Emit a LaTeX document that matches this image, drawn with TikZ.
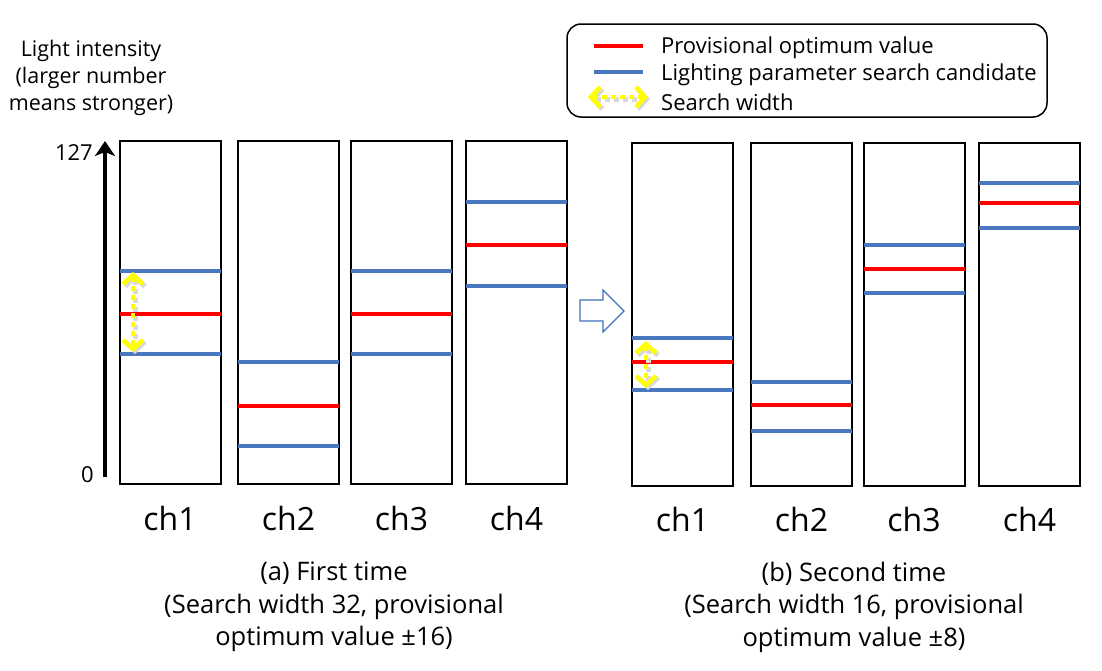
\documentclass[tikz,border=0pt]{standalone}
\usepackage{fontspec}
\setmainfont{Open Sans}
\usetikzlibrary{arrows.meta}
\definecolor{candblue}{RGB}{74,120,192}
\definecolor{optred}{RGB}{255,0,0}
\definecolor{swyellow}{RGB}{255,255,0}
\definecolor{arrowblue}{RGB}{65,113,190}
\tikzset{
  chbox/.style={draw=black, line width=2pt, fill=white, minimum width=101pt, minimum height=343pt, anchor=north west, inner sep=0pt, outer sep=0pt},
  candline/.style={draw=candblue, line width=4pt},
  optline/.style={draw=optred, line width=4pt},
  widtharrow/.style={draw=swyellow, line width=4pt, dash pattern=on 5pt off 4pt, {Straight Barb[length=9pt,width=20pt,line width=4.5pt]}-{Straight Barb[length=9pt,width=20pt,line width=4.5pt]}},
  widthshadow/.style={draw=black!15, line width=5pt, dash pattern=on 5pt off 4pt, {Straight Barb[length=9pt,width=20pt,line width=5pt]}-{Straight Barb[length=9pt,width=20pt,line width=5pt]}},
  chlabel/.style={font=\fontsize{32}{36}\selectfont},
  caption/.style={font=\fontsize{25.5}{32.5}\selectfont, align=center},
  legtext/.style={font=\fontsize{22}{26}\selectfont, anchor=west, inner sep=0pt},
  axistext/.style={font=\fontsize{21.5}{27}\selectfont, align=center},
  ticktext/.style={font=\fontsize{22}{26}\selectfont, anchor=east, inner sep=0pt},
}
\newcommand\chanlines[4]{%
  \draw[candline] (#1.west |- 0,#2) -- (#1.east |- 0,#2);
  \draw[optline]  (#1.west |- 0,#3) -- (#1.east |- 0,#3);
  \draw[candline] (#1.west |- 0,#4) -- (#1.east |- 0,#4);
}
\begin{document}
\begin{tikzpicture}[x=1pt,y=-1pt]
\useasboundingbox (0,0) rectangle (1102,670);

% axis
\node[axistext] (axtitle) at (91,78) {Light intensity\\(larger number\\means stronger)};
\coordinate (axbot) at (105,477);
\coordinate (axtop) at (105,141);
\draw[line width=4pt, -{Stealth[length=15pt,width=20pt,inset=4pt]}] (axbot) -- (axtop);
\node[ticktext] (t127) at (93,153) {127};
\node[ticktext] (t0) at (94,475) {0};

% panel (a)
\node[chbox] (a1) at (119.5,141) {};
\node[chbox] (a2) at (238,141) {};
\node[chbox] (a3) at (351,141) {};
\node[chbox] (a4) at (466,141) {};
\chanlines{a1}{271}{314}{354}
\chanlines{a2}{362}{406}{446}
\chanlines{a3}{271}{314}{354}
\chanlines{a4}{202}{245}{286}
\coordinate (aw1) at (133,272);
\coordinate (aw2) at (133,352);
\draw[widthshadow] ([shift={(2pt,-2pt)}]aw1) -- ([shift={(2pt,-2pt)}]aw2);
\draw[widtharrow] (aw1) -- (aw2);
\foreach \n in {1,2,3,4} {\node[chlabel] (la\n) at ([yshift=-34pt]a\n.south) {ch\n};}
\node[caption] (capa) at (334,607) {(a) First time\\(Search width 32, provisional\\optimum value ±16)};

% block arrow
\draw[draw=arrowblue, line width=1.2pt, fill=white, line join=miter]
  (580,300) -- (603,300) -- (603,290) -- (624,311) -- (603,332) -- (603,321) -- (580,321) -- cycle;

% panel (b)
\node[chbox] (b1) at (632,142.5) {};
\node[chbox] (b2) at (751,142.5) {};
\node[chbox] (b3) at (863.5,142.5) {};
\node[chbox] (b4) at (979,142.5) {};
\chanlines{b1}{338}{362}{390}
\chanlines{b2}{382}{405}{431}
\chanlines{b3}{245}{269}{293}
\chanlines{b4}{183}{203}{228}
\coordinate (bw1) at (646,341);
\coordinate (bw2) at (646,388);
\draw[widthshadow] ([shift={(2pt,-2pt)}]bw1) -- ([shift={(2pt,-2pt)}]bw2);
\draw[widtharrow] (bw1) -- (bw2);
\foreach \n in {1,2,3,4} {\node[chlabel] (lb\n) at ([yshift=-34pt]b\n.south) {ch\n};}
\node[caption] (capb) at (854,607) {(b) Second time\\(Search width 16, provisional\\optimum value ±8)};

% legend
\draw[line width=1.5pt, rounded corners=14pt] (567,24) rectangle (1047,117);
\coordinate (lr1) at (594,46);  \coordinate (lr2) at (643,46);
\coordinate (lb1) at (594,72);  \coordinate (lb2) at (643,72);
\coordinate (ly1) at (588,97);  \coordinate (ly2) at (648,97);
\draw[optline] (lr1) -- (lr2);
\draw[candline] (lb1) -- (lb2);
\draw[widthshadow] ([shift={(2pt,-2pt)}]ly1) -- ([shift={(2pt,-2pt)}]ly2);
\draw[widtharrow] (ly1) -- (ly2);
\node[legtext] (lt1) at (661,48) {Provisional optimum value};
\node[legtext] (lt2) at (661,75) {Lighting parameter search candidate};
\node[legtext] (lt3) at (661,102) {Search width};
\end{tikzpicture}
\end{document}
